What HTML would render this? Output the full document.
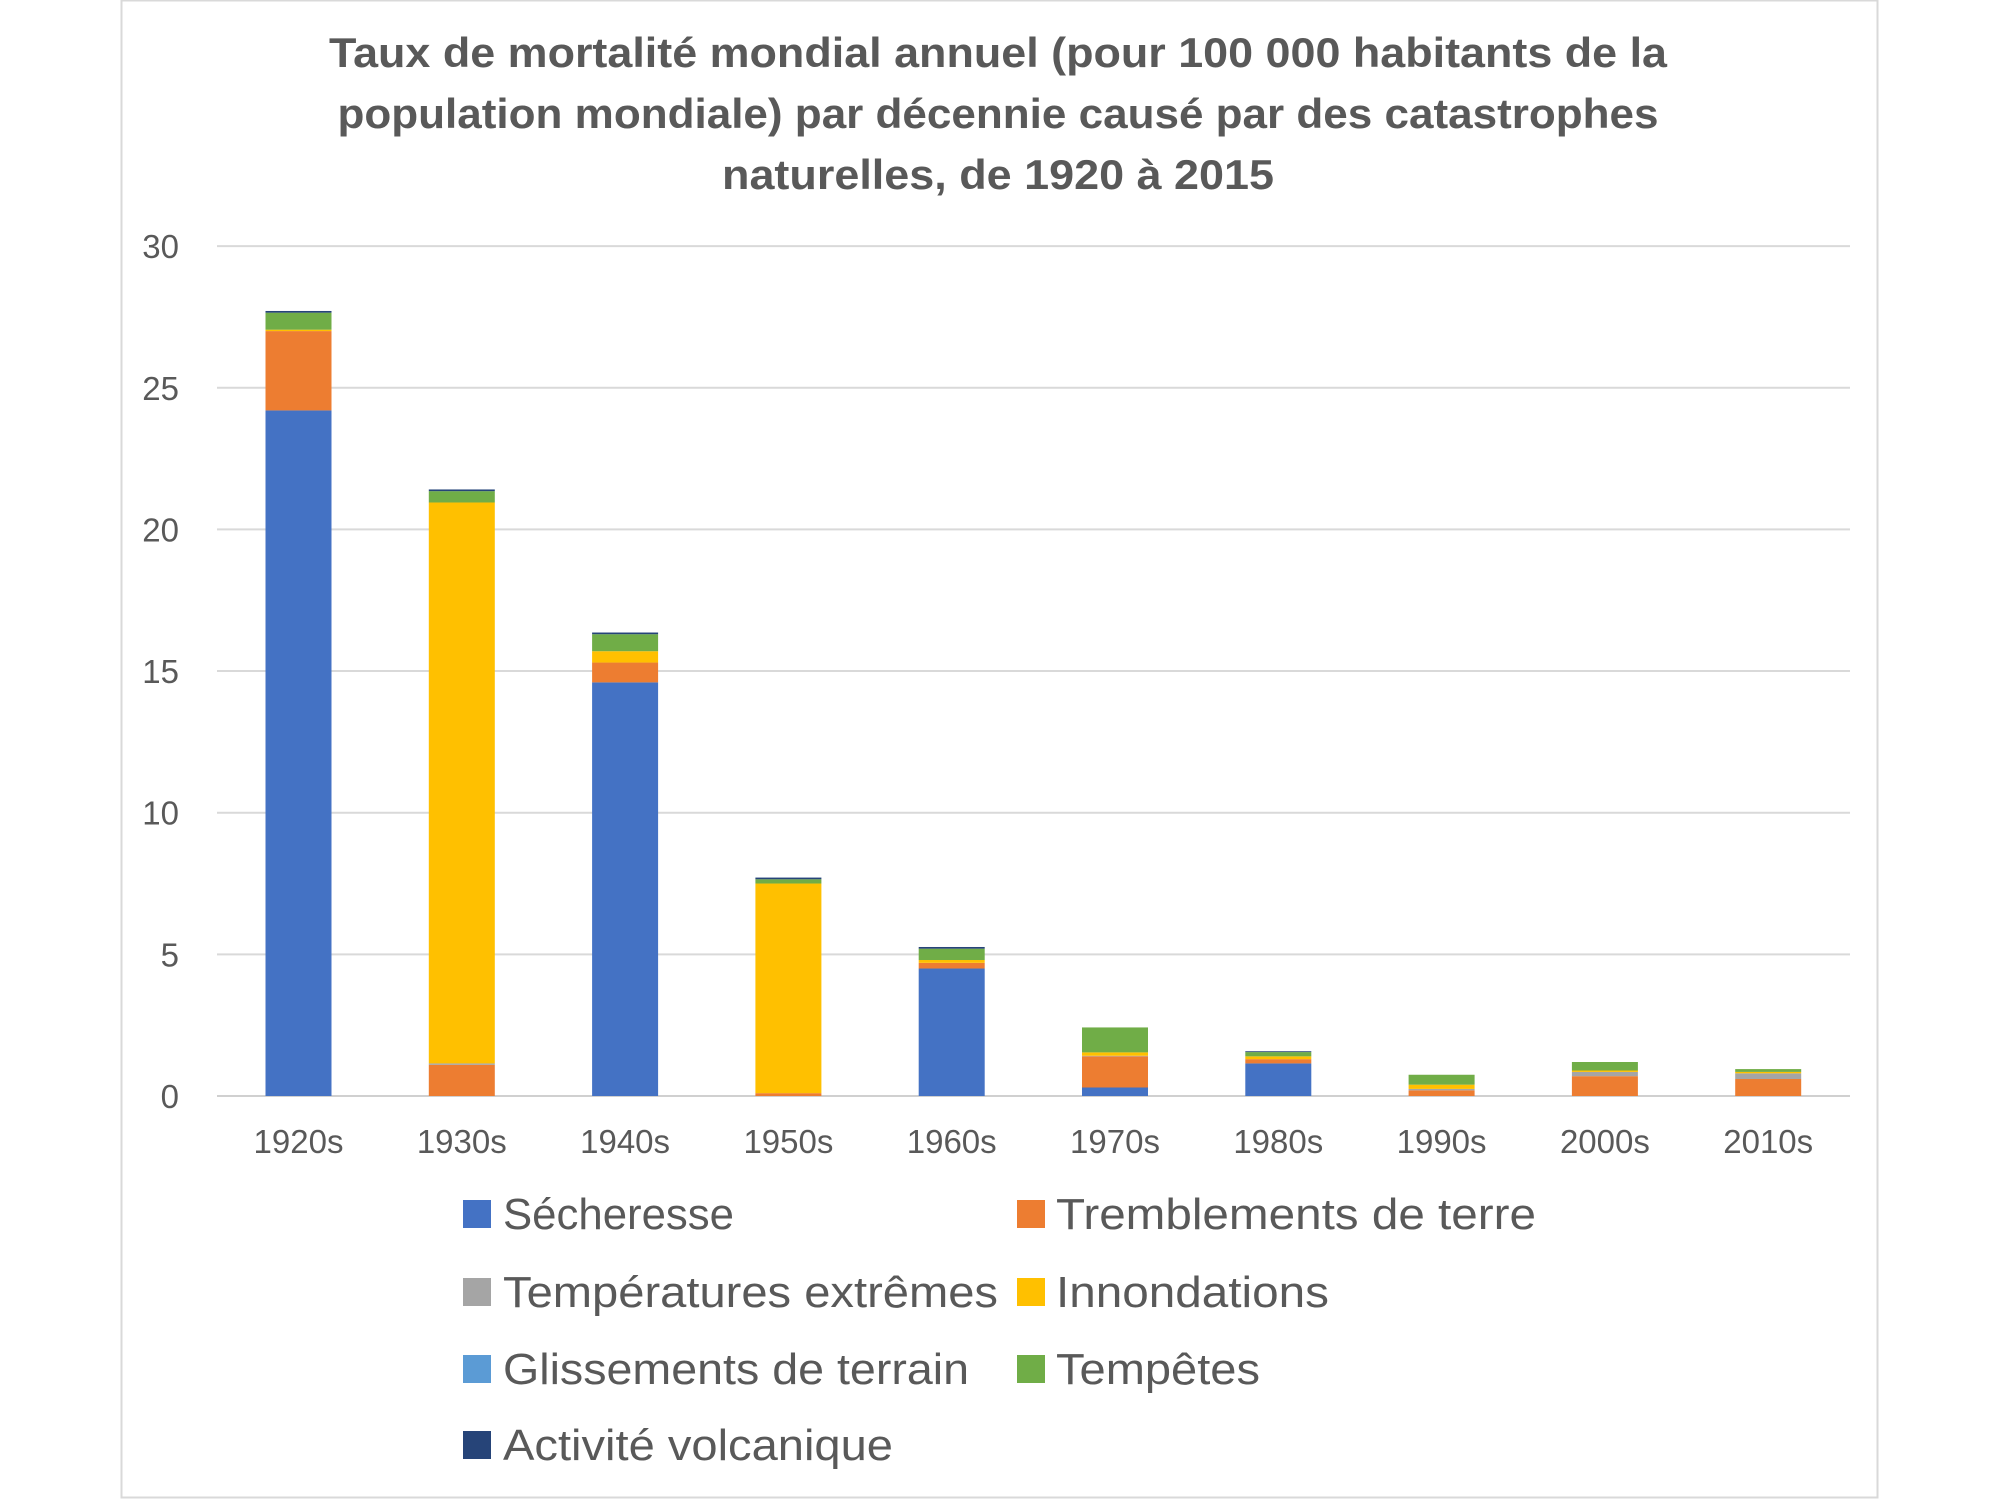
<!DOCTYPE html>
<html><head><meta charset="utf-8"><style>
html,body{margin:0;padding:0;background:#fff;}
svg{display:block;font-family:"Liberation Sans",sans-serif;}
</style></head><body>
<svg id="s" width="2000" height="1500" viewBox="0 0 2000 1500" xmlns="http://www.w3.org/2000/svg">
<rect x="0" y="0" width="2000" height="1500" fill="#fff"/>
<rect x="121.5" y="0.5" width="1756" height="1497" fill="none" stroke="#d9d9d9" stroke-width="2"/>
<g fill="#595959" font-weight="bold" font-size="42" text-anchor="middle">
<text x="998" y="67" textLength="1338" lengthAdjust="spacingAndGlyphs">Taux de mortalité mondial annuel (pour 100 000 habitants de la</text>
<text x="998" y="128" textLength="1321" lengthAdjust="spacingAndGlyphs">population mondiale) par décennie causé par des catastrophes</text>
<text x="998" y="189" textLength="552" lengthAdjust="spacingAndGlyphs">naturelles, de 1920 à 2015</text>
</g>
<g id="grid"></g>
<g id="bars"></g>
<g id="lbl" fill="#595959" font-size="33"></g>
<g fill="#595959" font-size="44">
<rect x="463" y="1200" width="28" height="28" fill="#4472C4"/><text x="503" y="1229" textLength="231" lengthAdjust="spacingAndGlyphs">Sécheresse</text>
<rect x="1017" y="1200" width="28" height="28" fill="#ED7D31"/><text x="1056" y="1229" textLength="480" lengthAdjust="spacingAndGlyphs">Tremblements de terre</text>
<rect x="463" y="1278" width="28" height="28" fill="#A5A5A5"/><text x="503" y="1307" textLength="495" lengthAdjust="spacingAndGlyphs">Températures extrêmes</text>
<rect x="1017" y="1278" width="28" height="28" fill="#FFC000"/><text x="1056" y="1307" textLength="273" lengthAdjust="spacingAndGlyphs">Innondations</text>
<rect x="463" y="1355" width="28" height="28" fill="#5B9BD5"/><text x="503" y="1384" textLength="466" lengthAdjust="spacingAndGlyphs">Glissements de terrain</text>
<rect x="1017" y="1355" width="28" height="28" fill="#70AD47"/><text x="1056" y="1384" textLength="204" lengthAdjust="spacingAndGlyphs">Tempêtes</text>
<rect x="463" y="1431" width="28" height="28" fill="#264478"/><text x="503" y="1460" textLength="390" lengthAdjust="spacingAndGlyphs">Activité volcanique</text>
</g>
</svg>
<script>
var NS="http://www.w3.org/2000/svg";
function el(p,t,a,txt){var e=document.createElementNS(NS,t);for(var k in a)e.setAttribute(k,a[k]);if(txt!=null)e.textContent=txt;document.getElementById(p).appendChild(e);}
var y0=1096,u=28.33;
for(var v=0;v<=30;v+=5){var y=y0-v*u;el("grid","line",{x1:217,x2:1850,y1:y,y2:y,stroke:v==0?"#d0d0d0":"#d9d9d9","stroke-width":2});
el("lbl","text",{x:179,y:y+12,"text-anchor":"end"},String(v));}
var cols=["#4472C4","#ED7D31","#A5A5A5","#FFC000","#5B9BD5","#70AD47","#264478"];
var data=[
["1920s",[24.2,2.8,0,0.05,0,0.6,0.06]],
["1930s",[0,1.1,0.05,19.8,0,0.4,0.06]],
["1940s",[14.6,0.7,0,0.4,0,0.6,0.06]],
["1950s",[0,0.1,0,7.4,0,0.15,0.06]],
["1960s",[4.5,0.2,0,0.1,0,0.4,0.06]],
["1970s",[0.3,1.1,0.02,0.12,0,0.88,0]],
["1980s",[1.15,0.15,0,0.1,0,0.15,0.03]],
["1990s",[0,0.2,0.05,0.15,0,0.35,0]],
["2000s",[0,0.7,0.15,0.05,0,0.3,0]],
["2010s",[0,0.6,0.2,0.05,0,0.1,0]]];
for(var i=0;i<data.length;i++){var cx=298.5+i*163.3,acc=0;
for(var j=0;j<7;j++){var h=data[i][1][j];if(h<=0)continue;
el("bars","rect",{x:cx-33,width:66,y:y0-(acc+h)*u,height:h*u,fill:cols[j]});acc+=h;}
el("lbl","text",{x:cx,y:1153,"text-anchor":"middle"},data[i][0]);}
</script>
</body></html>
